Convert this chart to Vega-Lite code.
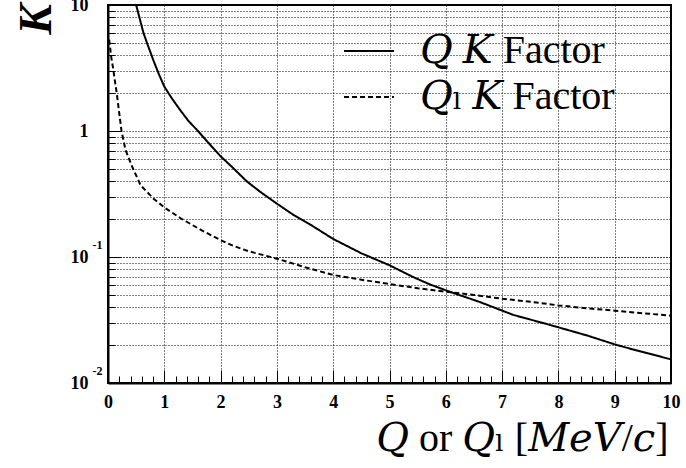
{
  "$schema": "https://vega.github.io/schema/vega-lite/v6.json",
  "width": 563,
  "height": 378,
  "autosize": {"type": "none"},
  "padding": {"left": 108, "top": 5, "right": 15, "bottom": 85},
  "background": "white",
  "config": {
    "font": "Liberation Serif",
    "view": {"stroke": "black", "strokeWidth": 2}
  },
  "data": {
    "values": [
      {"q": 0.5, "k": 10.0, "series": "𝑄 𝐾 Factor"},
      {"q": 0.56, "k": 7.9, "series": "𝑄 𝐾 Factor"},
      {"q": 0.63, "k": 6.0, "series": "𝑄 𝐾 Factor"},
      {"q": 0.7, "k": 4.9, "series": "𝑄 𝐾 Factor"},
      {"q": 0.8, "k": 3.7, "series": "𝑄 𝐾 Factor"},
      {"q": 0.9, "k": 2.85, "series": "𝑄 𝐾 Factor"},
      {"q": 1.0, "k": 2.25, "series": "𝑄 𝐾 Factor"},
      {"q": 1.14, "k": 1.8, "series": "𝑄 𝐾 Factor"},
      {"q": 1.28, "k": 1.47, "series": "𝑄 𝐾 Factor"},
      {"q": 1.43, "k": 1.2, "series": "𝑄 𝐾 Factor"},
      {"q": 1.58, "k": 1.02, "series": "𝑄 𝐾 Factor"},
      {"q": 1.8, "k": 0.79, "series": "𝑄 𝐾 Factor"},
      {"q": 2.0, "k": 0.63, "series": "𝑄 𝐾 Factor"},
      {"q": 2.2, "k": 0.52, "series": "𝑄 𝐾 Factor"},
      {"q": 2.46, "k": 0.4, "series": "𝑄 𝐾 Factor"},
      {"q": 2.7, "k": 0.33, "series": "𝑄 𝐾 Factor"},
      {"q": 3.0, "k": 0.265, "series": "𝑄 𝐾 Factor"},
      {"q": 3.3, "k": 0.215, "series": "𝑄 𝐾 Factor"},
      {"q": 3.6, "k": 0.18, "series": "𝑄 𝐾 Factor"},
      {"q": 4.0, "k": 0.139, "series": "𝑄 𝐾 Factor"},
      {"q": 4.5, "k": 0.107, "series": "𝑄 𝐾 Factor"},
      {"q": 5.0, "k": 0.086, "series": "𝑄 𝐾 Factor"},
      {"q": 5.4, "k": 0.07, "series": "𝑄 𝐾 Factor"},
      {"q": 5.7, "k": 0.061, "series": "𝑄 𝐾 Factor"},
      {"q": 6.07, "k": 0.053, "series": "𝑄 𝐾 Factor"},
      {"q": 6.6, "k": 0.044, "series": "𝑄 𝐾 Factor"},
      {"q": 7.2, "k": 0.0347, "series": "𝑄 𝐾 Factor"},
      {"q": 7.85, "k": 0.0289, "series": "𝑄 𝐾 Factor"},
      {"q": 8.5, "k": 0.0239, "series": "𝑄 𝐾 Factor"},
      {"q": 9.04, "k": 0.02, "series": "𝑄 𝐾 Factor"},
      {"q": 9.5, "k": 0.0176, "series": "𝑄 𝐾 Factor"},
      {"q": 10.0, "k": 0.0154, "series": "𝑄 𝐾 Factor"},
      {"q": 0.02, "k": 5.3, "series": "𝑄ₗ 𝐾 Factor"},
      {"q": 0.035, "k": 4.7, "series": "𝑄ₗ 𝐾 Factor"},
      {"q": 0.06, "k": 3.8, "series": "𝑄ₗ 𝐾 Factor"},
      {"q": 0.095, "k": 3.05, "series": "𝑄ₗ 𝐾 Factor"},
      {"q": 0.125, "k": 2.45, "series": "𝑄ₗ 𝐾 Factor"},
      {"q": 0.155, "k": 2.0, "series": "𝑄ₗ 𝐾 Factor"},
      {"q": 0.2, "k": 1.38, "series": "𝑄ₗ 𝐾 Factor"},
      {"q": 0.24, "k": 1.0, "series": "𝑄ₗ 𝐾 Factor"},
      {"q": 0.31, "k": 0.71, "series": "𝑄ₗ 𝐾 Factor"},
      {"q": 0.43, "k": 0.52, "series": "𝑄ₗ 𝐾 Factor"},
      {"q": 0.58, "k": 0.37, "series": "𝑄ₗ 𝐾 Factor"},
      {"q": 0.81, "k": 0.29, "series": "𝑄ₗ 𝐾 Factor"},
      {"q": 1.02, "k": 0.244, "series": "𝑄ₗ 𝐾 Factor"},
      {"q": 1.29, "k": 0.203, "series": "𝑄ₗ 𝐾 Factor"},
      {"q": 1.65, "k": 0.164, "series": "𝑄ₗ 𝐾 Factor"},
      {"q": 2.0, "k": 0.136, "series": "𝑄ₗ 𝐾 Factor"},
      {"q": 2.24, "k": 0.122, "series": "𝑄ₗ 𝐾 Factor"},
      {"q": 2.5, "k": 0.111, "series": "𝑄ₗ 𝐾 Factor"},
      {"q": 3.0, "k": 0.097, "series": "𝑄ₗ 𝐾 Factor"},
      {"q": 3.5, "k": 0.083, "series": "𝑄ₗ 𝐾 Factor"},
      {"q": 4.0, "k": 0.072, "series": "𝑄ₗ 𝐾 Factor"},
      {"q": 4.5, "k": 0.066, "series": "𝑄ₗ 𝐾 Factor"},
      {"q": 5.0, "k": 0.061, "series": "𝑄ₗ 𝐾 Factor"},
      {"q": 5.5, "k": 0.0565, "series": "𝑄ₗ 𝐾 Factor"},
      {"q": 6.0, "k": 0.053, "series": "𝑄ₗ 𝐾 Factor"},
      {"q": 6.5, "k": 0.05, "series": "𝑄ₗ 𝐾 Factor"},
      {"q": 7.0, "k": 0.0466, "series": "𝑄ₗ 𝐾 Factor"},
      {"q": 7.5, "k": 0.0442, "series": "𝑄ₗ 𝐾 Factor"},
      {"q": 8.0, "k": 0.0413, "series": "𝑄ₗ 𝐾 Factor"},
      {"q": 8.5, "k": 0.0392, "series": "𝑄ₗ 𝐾 Factor"},
      {"q": 9.0, "k": 0.0375, "series": "𝑄ₗ 𝐾 Factor"},
      {"q": 9.5, "k": 0.0358, "series": "𝑄ₗ 𝐾 Factor"},
      {"q": 10.0, "k": 0.0342, "series": "𝑄ₗ 𝐾 Factor"}
    ]
  },
  "layer": [
    {
      "transform": [{"filter": "datum.series === '𝑄 𝐾 Factor'"}],
      "mark": {"type": "line", "color": "black", "strokeWidth": 2, "clip": true},
      "encoding": {
        "x": {
          "field": "q",
          "type": "quantitative",
          "scale": {"domain": [0, 10], "nice": false, "zero": false},
          "axis": {
            "orient": "bottom",
            "values": [0, 1, 2, 3, 4, 5, 6, 7, 8, 9, 10],
            "tickSize": -13,
            "tickColor": "black",
            "tickWidth": 1,
            "domainColor": "black",
            "domainWidth": 2,
            "grid": true,
            "gridColor": "black",
            "gridDash": [1, 2],
            "gridWidth": 1,
            "format": "d",
            "labelFont": "Liberation Serif",
            "labelFontWeight": "bold",
            "labelFontSize": 18,
            "labelColor": "black",
            "labelBaseline": "top",
            "labelPadding": 23,
            "labelFlush": false,
            "labelOverlap": false,
            "title": "𝑄 or 𝑄ₗ [𝑀𝑒𝑉/𝑐]",
            "titleFont": "'Liberation Serif', 'DejaVu Serif'",
            "titleFontSize": 40,
            "titleFontWeight": "normal",
            "titleColor": "black",
            "titleAlign": "right",
            "titleBaseline": "alphabetic",
            "titleX": 560,
            "titleY": 67
          }
        },
        "y": {
          "field": "k",
          "type": "quantitative",
          "scale": {"type": "log", "domain": [0.01, 10], "nice": false},
          "axis": {
            "orient": "left",
            "values": [0.01, 0.1, 1, 10],
            "tickSize": -13,
            "tickColor": "black",
            "tickWidth": 1,
            "domainColor": "black",
            "domainWidth": 2,
            "grid": true,
            "gridColor": "black",
            "gridDash": [1, 2],
            "gridWidth": 1,
            "labelExpr": "datum.value >= 1 ? datum.label : '10\u00a0'",
            "labelPadding": 33,
            "labelFont": "Liberation Serif",
            "labelFontWeight": "bold",
            "labelFontSize": 18,
            "labelColor": "black",
            "labelAlign": "right",
            "labelBaseline": "middle",
            "labelFlush": false,
            "labelOverlap": false,
            "title": "K",
            "titleFont": "Liberation Serif",
            "titleFontSize": 46,
            "titleFontStyle": "italic",
            "titleFontWeight": "bold",
            "titleColor": "black",
            "titleAngle": -90,
            "titleAlign": "center",
            "titleBaseline": "middle",
            "titleX": -72,
            "titleY": 14
          }
        },
        "strokeDash": {
          "field": "series",
          "type": "nominal",
          "scale": {"domain": ["𝑄 𝐾 Factor", "𝑄ₗ 𝐾 Factor"], "range": [[1, 0], [5, 3]]},
          "legend": {
            "orient": "none",
            "legendX": 235,
            "legendY": 20,
            "title": null,
            "padding": 0,
            "symbolType": "stroke",
            "symbolSize": 2500,
            "symbolStrokeWidth": 2,
            "symbolStrokeColor": "black",
            "labelFont": "'Liberation Serif', 'DejaVu Serif'",
            "labelFontSize": 40,
            "labelColor": "black",
            "labelOffset": 25,
            "labelLimit": 500,
            "rowPadding": -2
          }
        }
      }
    },
    {
      "transform": [{"filter": "datum.series === '𝑄ₗ 𝐾 Factor'"}],
      "mark": {"type": "line", "color": "black", "strokeWidth": 2, "clip": true},
      "encoding": {
        "x": {
          "field": "q",
          "type": "quantitative",
          "axis": {
            "orient": "bottom",
            "values": [0.2, 0.4, 0.6, 0.8, 1.2, 1.4, 1.6, 1.8, 2.2, 2.4, 2.6, 2.8, 3.2, 3.4, 3.6, 3.8, 4.2, 4.4, 4.6, 4.8, 5.2, 5.4, 5.6, 5.8, 6.2, 6.4, 6.6, 6.8, 7.2, 7.4, 7.6, 7.8, 8.2, 8.4, 8.6, 8.8, 9.2, 9.4, 9.6, 9.8],
            "tickSize": -7,
            "tickColor": "black",
            "tickWidth": 1,
            "domain": false,
            "grid": false,
            "labels": false,
            "title": null
          }
        },
        "y": {
          "field": "k",
          "type": "quantitative",
          "axis": {
            "orient": "left",
            "values": [0.01, 0.02, 0.03, 0.04, 0.05, 0.06, 0.07, 0.08, 0.09, 0.1, 0.2, 0.3, 0.4, 0.5, 0.6, 0.7, 0.8, 0.9, 2, 3, 4, 5, 6, 7, 8, 9],
            "tickSize": -7,
            "tickColor": "black",
            "tickWidth": 1,
            "domain": false,
            "grid": true,
            "gridColor": "black",
            "gridDash": [1, 2],
            "gridWidth": 1,
            "labelExpr": "datum.value == 0.1 ? '-1' : datum.value == 0.01 ? '-2' : ''",
            "labelPadding": 13,
            "labelOffset": -13,
            "labelFont": "Liberation Serif",
            "labelFontWeight": "bold",
            "labelFontSize": 12,
            "labelColor": "black",
            "labelAlign": "right",
            "labelBaseline": "middle",
            "labelFlush": false,
            "labelOverlap": false,
            "title": null
          }
        },
        "strokeDash": {"field": "series", "type": "nominal"}
      }
    }
  ],
  "resolve": {"scale": {"x": "shared", "y": "shared"}, "axis": {"x": "independent", "y": "independent"}}
}
